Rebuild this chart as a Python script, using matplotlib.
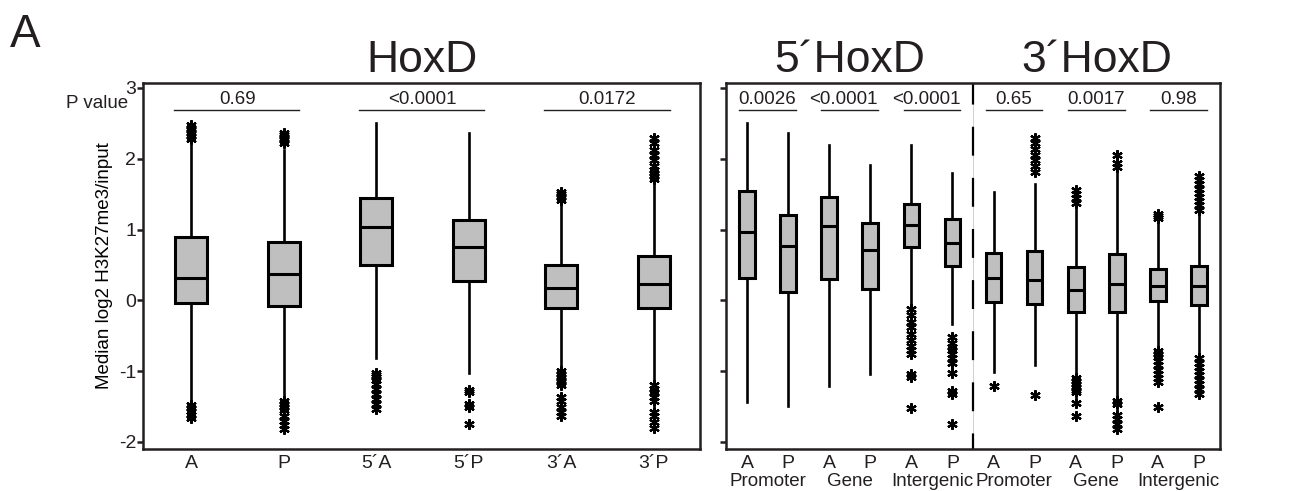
import matplotlib
matplotlib.use("Agg")
import matplotlib.pyplot as plt

plt.rcParams['font.family'] = ['Liberation Sans', 'DejaVu Sans']
ink = '#231f20'
plt.rcParams['text.color'] = ink
plt.rcParams['axes.edgecolor'] = ink
plt.rcParams['xtick.color'] = ink
plt.rcParams['ytick.color'] = ink

# ---- left panel: whole HoxD ----
left_labels = ["A", "P", "5´A", "5´P", "3´A", "3´P"]
left_q3 = [0.89, 0.83, 1.45, 1.14, 0.50, 0.63]
left_med = [0.32, 0.37, 1.04, 0.75, 0.18, 0.235]
left_q1 = [-0.04, -0.08, 0.50, 0.27, -0.11, -0.11]
left_hi = [2.25, 2.12, 2.50, 2.36, 1.40, 1.70]
left_lo = [-1.44, -1.35, -0.82, -1.03, -0.98, -1.16]
left_fliers = [
    [2.28, 2.32, 2.36, 2.40, 2.44, 2.48, -1.48, -1.52, -1.56, -1.62, -1.66],
    [2.22, 2.26, 2.30, 2.34, 2.37, -1.42, -1.46, -1.50, -1.55, -1.64, -1.70, -1.76, -1.82],
    [-1.02, -1.05, -1.08, -1.12, -1.18, -1.25, -1.32, -1.40, -1.47, -1.54],
    [-1.26, -1.30, -1.47, -1.50, -1.75],
    [1.42, 1.46, 1.50, 1.53, -1.00, -1.04, -1.08, -1.12, -1.16, -1.20,
     -1.36, -1.42, -1.50, -1.58, -1.64],
    [1.72, 1.76, 1.80, 1.84, 1.90, 1.98, 2.05, 2.12, 2.22, 2.30,
     -1.20, -1.25, -1.30, -1.36, -1.42, -1.58, -1.64, -1.72, -1.80],
]
left_pvals = ["0.69", "<0.0001", "0.0172"]

# ---- right panel: 5' and 3' HoxD by region ----
right_labels = ["A", "P"] * 6
right_groups = ["Promoter", "Gene", "Intergenic"] * 2
right_q3 = [1.54, 1.21, 1.46, 1.09, 1.36, 1.15, 0.67, 0.70, 0.47, 0.65, 0.44, 0.48]
right_med = [0.97, 0.77, 1.05, 0.71, 1.07, 0.81, 0.32, 0.29, 0.14, 0.23, 0.20, 0.20]
right_q1 = [0.32, 0.12, 0.30, 0.16, 0.76, 0.48, -0.03, -0.05, -0.16, -0.16, -0.01, -0.06]
right_hi = [2.50, 2.36, 2.19, 1.91, 2.19, 1.80, 1.53, 1.64, 1.35, 1.84, 1.14, 1.25]
right_lo = [-1.43, -1.49, -1.21, -1.04, -0.08, -0.34, -1.01, -0.92, -1.07, -1.40, -0.69, -0.79]
right_fliers = [
    [], [], [], [],
    [-0.12, -0.20, -0.30, -0.38, -0.48, -0.56, -0.64, -0.70, -0.76, -1.04, -1.08, -1.52],
    [-0.52, -0.60, -0.66, -0.70, -0.76, -0.82, -0.88, -1.02, -1.28, -1.32, -1.75],
    [-1.21],
    [1.82, 1.90, 1.98, 2.06, 2.14, 2.22, 2.30, -1.33],
    [1.38, 1.44, 1.50, 1.56, -1.10, -1.14, -1.18, -1.22, -1.26, -1.30, -1.45, -1.63],
    [1.88, 1.94, 2.06, -1.42, -1.46, -1.62, -1.68, -1.74, -1.82],
    [1.16, 1.19, 1.22, -0.72, -0.76, -0.80, -0.86, -0.92, -0.98, -1.04, -1.10, -1.16, -1.51],
    [1.28, 1.34, 1.40, 1.46, 1.52, 1.58, 1.64, 1.70, 1.76,
     -0.82, -0.88, -0.94, -1.00, -1.06, -1.12, -1.18, -1.25, -1.32],
]
right_pvals = ["0.0026", "<0.0001", "<0.0001", "0.65", "0.0017", "0.98"]

yticks = [-2, -1, 0, 1, 2, 3]


def stats(q1, med, q3, lo, hi, fl):
    return [dict(q1=a, med=b, q3=c, whislo=d, whishi=e, fliers=f)
            for a, b, c, d, e, f in zip(q1, med, q3, lo, hi, fl)]


def draw_boxes(ax, st, width):
    ax.bxp(st, positions=range(1, len(st) + 1), widths=width,
           showcaps=False, patch_artist=True,
           boxprops=dict(facecolor='#bfbfbf', edgecolor='black', linewidth=2.2),
           medianprops=dict(color='black', linewidth=2.2),
           whiskerprops=dict(color='black', linewidth=1.9),
           flierprops=dict(marker=(6, 2, 0), markersize=7.5, markeredgewidth=1.6,
                           markeredgecolor='black', markerfacecolor='black'))


fig = plt.figure(figsize=(12.9, 4.91), dpi=100)
axL = fig.add_axes([0.1109, 0.0855, 0.4318, 0.7454])
axR = fig.add_axes([0.5628, 0.0855, 0.3829, 0.7454])

draw_boxes(axL, stats(left_q1, left_med, left_q3, left_lo, left_hi, left_fliers), 0.35)
draw_boxes(axR, stats(right_q1, right_med, right_q3, right_lo, right_hi, right_fliers), 0.38)

for ax in (axL, axR):
    ax.set_ylim(-2.1, 3.07)
    ax.set_yticks(yticks)
    for s in ax.spines.values():
        s.set_linewidth(1.8)
    ax.tick_params(axis='y', direction='out', length=4, width=1.8)
    ax.tick_params(axis='x', length=0, pad=4, labelsize=14)

axL.set_xlim(0.48, 6.5)
axL.set_xticks(range(1, 7))
axL.set_xticklabels(left_labels)
axL.set_yticklabels([str(t) for t in yticks], fontsize=14)
axL.tick_params(axis='y', pad=1)
axL.set_ylabel("Median log2 H3K27me3/input", fontsize=13.5, labelpad=4)
axL.set_title("HoxD", fontsize=32, pad=8)

axR.set_xlim(0.49, 12.51)
axR.set_xticks(range(1, 13))
axR.set_xticklabels(right_labels)
axR.set_yticklabels([])
axR.axvline(6.5, color='#c8c8c8', lw=0.6)
axR.axvline(6.5, color='black', lw=1.6, linestyle=(6, (13, 10)))
for i, g in enumerate(right_groups):
    axR.text(2 * i + 1.5, -0.066, g, transform=axR.get_xaxis_transform(),
             ha='center', va='top', fontsize=13.5)

# p value brackets
line_y = 2.69
for i, p in enumerate(left_pvals):
    c = 2 * i + 1.5
    axL.plot([c - 0.69, c + 0.67], [line_y, line_y], color=ink, lw=1.0)
    axL.text(c, line_y + 0.03, p, ha='center', va='bottom', fontsize=13.5)
for i, p in enumerate(right_pvals):
    c = 2 * i + 1.5
    x0, x1 = c - 0.69, c + 0.69
    axR.plot([x0, x1], [line_y, line_y], color=ink, lw=1.0)
    if i in (3, 5):
        axR.text(c, line_y + 0.03, p, ha='center', va='bottom', fontsize=13.5)
    else:
        axR.text(x1, line_y + 0.03, p, ha='right', va='bottom', fontsize=13.5)

fig.text(128 / 1290, 1 - 108 / 491, "P value", ha='right', va='baseline', fontsize=13.5)
fig.text(0.008, 1 - 47 / 491, "A", ha='left', va='baseline', fontsize=33)
fig.text((726 + 973) / 2 / 1290, 1 - 72 / 491, "5´HoxD", ha='center', va='baseline', fontsize=32)
fig.text((973 + 1220) / 2 / 1290, 1 - 72 / 491, "3´HoxD", ha='center', va='baseline', fontsize=32)

fig.savefig("out.png", dpi=100)
